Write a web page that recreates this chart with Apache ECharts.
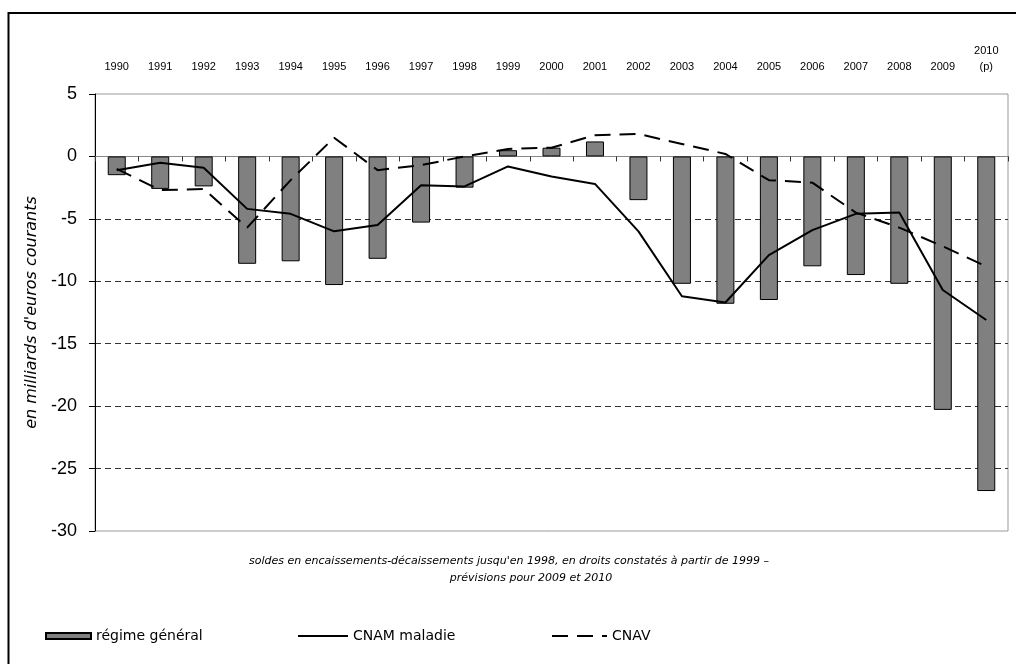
<!DOCTYPE html>
<html>
<head>
<meta charset="utf-8">
<script src="https://cdn.jsdelivr.net/npm/echarts@6/dist/echarts.min.js"></script>
<style>
  html, body { margin: 0; padding: 0; background: #fff; }
  #chart { width: 1016px; height: 664px; }
</style>
</head>
<body>
<div id="chart"></div>
<script>
// Soldes annuels (milliards d'euros courants)
const years = ['1990', '1991', '1992', '1993', '1994', '1995', '1996', '1997', '1998', '1999',
  '2000', '2001', '2002', '2003', '2004', '2005', '2006', '2007', '2008', '2009', '2010\n(p)'];
const regimeGeneral = [-1.5, -2.6, -2.4, -8.6, -8.4, -10.3, -8.2, -5.3, -2.5, 0.5,
  0.7, 1.2, -3.5, -10.2, -11.8, -11.5, -8.8, -9.5, -10.2, -20.3, -26.8];
const cnamMaladie = [-1.1, -0.5, -0.9, -4.2, -4.6, -6.0, -5.5, -2.3, -2.4, -0.8,
  -1.6, -2.2, -6.0, -11.2, -11.7, -7.9, -5.9, -4.6, -4.5, -10.7, -13.1];
const cnav = [-1.0, -2.7, -2.6, -5.7, -1.9, 1.5, -1.1, -0.7, 0.0, 0.6,
  0.7, 1.7, 1.8, 1.0, 0.2, -1.9, -2.1, -4.5, -5.7, -7.2, -8.8];

const seriesNames = ['régime général', 'CNAM maladie', 'CNAV'];
const yTitle = "en milliards d'euros courants";
const noteLines = [
  "soldes en encaissements-décaissements jusqu'en 1998, en droits constatés à partir de 1999 –",
  'prévisions pour 2009 et 2010'
];

const chart = echarts.init(document.getElementById('chart'), null, { renderer: 'canvas' });

const dark = '#333';
const legendText = { fontFamily: 'DejaVu Sans', fontSize: 14, color: '#000', lineHeight: 18 };
// line legends: keep the stroke, hide the marker drawn in the middle
const lineLegendItem = { opacity: 0 };

chart.setOption({
  animation: false,
  backgroundColor: '#fff',
  grid: {
    left: 95, top: 94, right: 8, bottom: 133,
    show: true, borderColor: '#999', borderWidth: 1, backgroundColor: 'transparent'
  },
  xAxis: [
    {
      type: 'category',
      data: years,
      position: 'bottom',
      axisLine: { onZero: true, lineStyle: { color: '#888', width: 1 } },
      axisTick: { show: true, length: 5, lineStyle: { color: dark } },
      axisLabel: { show: false },
      splitLine: { show: false }
    },
    {
      type: 'category',
      data: years,
      position: 'top',
      axisLine: { show: false },
      axisTick: { show: false },
      axisLabel: {
        interval: 0, margin: 19,
        fontFamily: 'Liberation Sans, Arial', fontSize: 11, lineHeight: 16, color: '#000'
      }
    }
  ],
  yAxis: {
    type: 'value',
    min: -30, max: 5, interval: 5,
    name: yTitle,
    nameLocation: 'middle',
    nameRotate: 90,
    nameGap: 50,
    nameTextStyle: { fontFamily: 'DejaVu Sans', fontStyle: 'italic', fontSize: 16, color: '#000' },
    axisLine: { show: true, lineStyle: { color: '#000', width: 1 } },
    axisTick: { show: true, length: 6, lineStyle: { color: '#000' } },
    axisLabel: { margin: 18, fontFamily: 'Liberation Sans, Arial', fontSize: 18, color: '#000' },
    splitLine: {
      show: true,
      lineStyle: {
        // -30, -25, -20, -15, -10, -5, 0, 5 : dashed rules only inside the frame
        color: ['transparent', dark, dark, dark, dark, dark, 'transparent', 'transparent'],
        type: [6, 4],
        width: 1
      }
    }
  },
  legend: [
    {
      data: [{ name: seriesNames[0], icon: 'rect' }],
      left: 45, top: 627, padding: 0,
      itemWidth: 45, itemHeight: 6,
      textStyle: legendText
    },
    {
      data: [seriesNames[1]],
      left: 297, top: 627, padding: 0,
      itemWidth: 50, itemHeight: 14,
      itemStyle: lineLegendItem,
      textStyle: legendText
    },
    {
      data: [seriesNames[2]],
      left: 551, top: 627, padding: 0,
      itemWidth: 55, itemHeight: 14,
      itemStyle: lineLegendItem,
      textStyle: legendText
    }
  ],
  series: [
    {
      name: seriesNames[0],
      type: 'bar',
      data: regimeGeneral,
      barWidth: 18,
      itemStyle: { color: '#808080', borderColor: '#000', borderWidth: 1 },
      z: 2
    },
    {
      name: seriesNames[1],
      type: 'line',
      data: cnamMaladie,
      symbol: 'none',
      lineStyle: { color: '#000', width: 2 },
      itemStyle: { color: '#000' },
      z: 3
    },
    {
      name: seriesNames[2],
      type: 'line',
      data: cnav,
      symbol: 'none',
      lineStyle: { color: '#000', width: 2, type: [16, 9] },
      itemStyle: { color: '#000' },
      z: 3
    }
  ],
  graphic: [
    { type: 'line', shape: { x1: 8, y1: 13, x2: 1016, y2: 13 }, style: { stroke: '#000', lineWidth: 2 }, z: 10 },
    { type: 'line', shape: { x1: 8.5, y1: 12, x2: 8.5, y2: 664 }, style: { stroke: '#000', lineWidth: 2 }, z: 10 },
    {
      type: 'text', x: 509, y: 561,
      style: {
        text: noteLines[0], align: 'center', verticalAlign: 'middle',
        font: 'italic 11px "DejaVu Sans"', fill: '#000'
      }
    },
    {
      type: 'text', x: 531, y: 578,
      style: {
        text: noteLines[1], align: 'center', verticalAlign: 'middle',
        font: 'italic 11px "DejaVu Sans"', fill: '#000'
      }
    }
  ]
});
</script>
</body>
</html>
